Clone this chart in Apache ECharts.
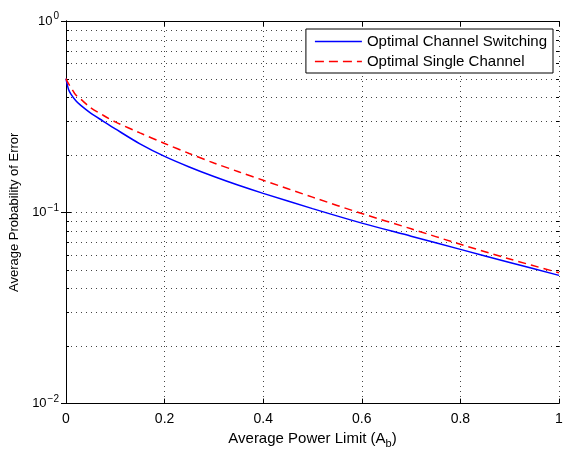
<!DOCTYPE html>
<html>
<head>
<meta charset="utf-8">
<script src="https://cdn.jsdelivr.net/npm/echarts@6/dist/echarts.min.js"></script>
<style>html,body{margin:0;padding:0;background:#fff}#c{width:570px;height:454px}</style>
</head>
<body>
<div id="c"></div>
<script>
const powerLimit = [0, 0.005, 0.01, 0.02, 0.03, 0.05, 0.075, 0.1, 0.15, 0.2, 0.25, 0.3, 0.35, 0.4, 0.5, 0.6, 0.7, 0.8, 0.9, 1.0];
const switchingErr = [0.5, 0.44, 0.415, 0.383, 0.362, 0.33, 0.300, 0.273, 0.228, 0.196, 0.1726, 0.1538, 0.1384, 0.1256, 0.1045, 0.0878, 0.0750, 0.0640, 0.0547, 0.0468];
const singleErr = [0.5, 0.47, 0.45, 0.41, 0.39, 0.352, 0.322, 0.297, 0.26, 0.229, 0.203, 0.181, 0.163, 0.147, 0.12, 0.0985, 0.082, 0.068, 0.057, 0.0483];
const xTicks = [0, 0.2, 0.4, 0.6, 0.8, 1];
const minorYTicks = [0.02,0.03,0.04,0.05,0.06,0.07,0.08,0.09,0.2,0.3,0.4,0.5,0.6,0.7,0.8,0.9];
const seriesNames = ['Optimal Channel Switching', 'Optimal Single Channel'];
const xName = 'Average Power Limit (A{sub|b})';
const yName = 'Average Probability of Error';

const FONT = 'Liberation Sans, Arial, Helvetica, sans-serif';
const gridDot = {color: '#444', width: 1, type: [1, 4]};
const solidIcon = 'path://M0,0h47v1.6h-47z';
const dashIcon = 'path://M0,0h9v1.6h-9zM14,0h9v1.6h-9zM28,0h9v1.6h-9zM42,0h5v1.6h-5z';

const chart = echarts.init(document.getElementById('c'), null, {renderer: 'canvas'});
chart.setOption({
  animation: false,
  backgroundColor: '#fff',
  textStyle: {fontFamily: FONT},
  grid: {left: 66, right: 11, top: 21, bottom: 43, containLabel: false},
  legend: {
    orient: 'vertical', right: 17, top: 29,
    backgroundColor: '#fff', borderColor: '#000', borderWidth: 1, borderRadius: 0,
    padding: [5, 6, 4, 9], itemGap: 5, itemWidth: 47, itemHeight: 14,
    symbolKeepAspect: true,
    textStyle: {fontFamily: FONT, fontSize: 15, color: '#000'},
    data: [{name: seriesNames[0], icon: solidIcon, itemStyle: {color: '#0000ff'}},
           {name: seriesNames[1], icon: dashIcon, itemStyle: {color: '#ff0000'}}]
  },
  xAxis: [{
    type: 'value', min: 0, max: 1, interval: 0.2,
    name: xName, nameLocation: 'middle', nameGap: 24,
    nameTextStyle: {fontFamily: FONT, fontSize: 15, color: '#000',
      rich: {sub: {fontSize: 11, verticalAlign: 'bottom', padding: [9, 0, 0, 0], fontFamily: FONT, color: '#000'}}},
    axisLine: {lineStyle: {color: '#000', width: 1}},
    axisTick: {inside: true, length: 5, lineStyle: {color: '#000'}},
    axisLabel: {fontFamily: FONT, fontSize: 14, color: '#000', margin: 9,
      formatter: v => (xTicks.indexOf(Math.round(v*10)/10) >= 0 ? String(Math.round(v*10)/10) : '')},
    splitLine: {show: true, lineStyle: gridDot}
  }, {
    type: 'value', min: 0, max: 1, interval: 0.2, position: 'top',
    axisLine: {lineStyle: {color: '#000', width: 1}},
    axisTick: {inside: true, length: 5, lineStyle: {color: '#000'}},
    axisLabel: {show: false}, splitLine: {show: false}
  }],
  yAxis: [{
    type: 'log', logBase: 10, min: 0.01, max: 1,
    name: yName, nameLocation: 'middle', nameGap: 41,
    nameTextStyle: {fontFamily: FONT, fontSize: 13, color: '#000'},
    axisLine: {lineStyle: {color: '#000', width: 1}},
    axisTick: {inside: true, length: 5, lineStyle: {color: '#000'}},
    axisLabel: {fontFamily: FONT, color: '#000', margin: 7,
      formatter: v => {
        const e = Math.round(Math.log10(v));
        return '{b|10}{s|' + (e < 0 ? '\u2212' : '') + Math.abs(e) + '}';
      },
      rich: {
        b: {fontSize: 13, fontFamily: FONT, color: '#000'},
        s: {fontSize: 10, fontFamily: FONT, color: '#000', verticalAlign: 'top', padding: [0, 0, 9, 1]}
      }},
    splitLine: {show: true, lineStyle: gridDot}
  }, {
    type: 'log', logBase: 10, min: 0.01, max: 1, position: 'right',
    axisLine: {lineStyle: {color: '#000', width: 1}},
    axisTick: {inside: true, length: 5, lineStyle: {color: '#000'}},
    axisLabel: {show: false}, splitLine: {show: false}
  }],
  series: [
    {
      type: 'custom', name: 'minor', silent: true, xAxisIndex: 0, yAxisIndex: 0, z: 1,
      data: minorYTicks.map(v => [0, v]),
      renderItem: (params, api) => {
        const cs = params.coordSys;
        const y = Math.round(api.coord([0, api.value(1)])[1]) + 0.5;
        return {type: 'group', children: [
          {type: 'line', shape: {x1: cs.x, y1: y, x2: cs.x + cs.width, y2: y}, style: {stroke: gridDot.color, lineWidth: 1, lineDash: [1, 4]}},
          {type: 'line', shape: {x1: cs.x, y1: y, x2: cs.x + 3, y2: y}, style: {stroke: '#000', lineWidth: 1}},
          {type: 'line', shape: {x1: cs.x + cs.width - 3, y1: y, x2: cs.x + cs.width, y2: y}, style: {stroke: '#000', lineWidth: 1}}
        ]};
      }
    },
    {
      type: 'line', name: seriesNames[0], xAxisIndex: 0, yAxisIndex: 0, z: 3,
      data: powerLimit.map((x, i) => [x, switchingErr[i]]),
      smooth: 0.3, symbol: 'none', showSymbol: false,
      lineStyle: {color: '#0000ff', width: 1.5},
      itemStyle: {color: '#0000ff'}
    },
    {
      type: 'line', name: seriesNames[1], xAxisIndex: 0, yAxisIndex: 0, z: 4,
      data: powerLimit.map((x, i) => [x, singleErr[i]]),
      smooth: 0.3, symbol: 'none', showSymbol: false,
      lineStyle: {color: '#ff0000', width: 1.5, type: [8, 5]},
      itemStyle: {color: '#ff0000'}
    }
  ]
});
</script>
</body>
</html>
